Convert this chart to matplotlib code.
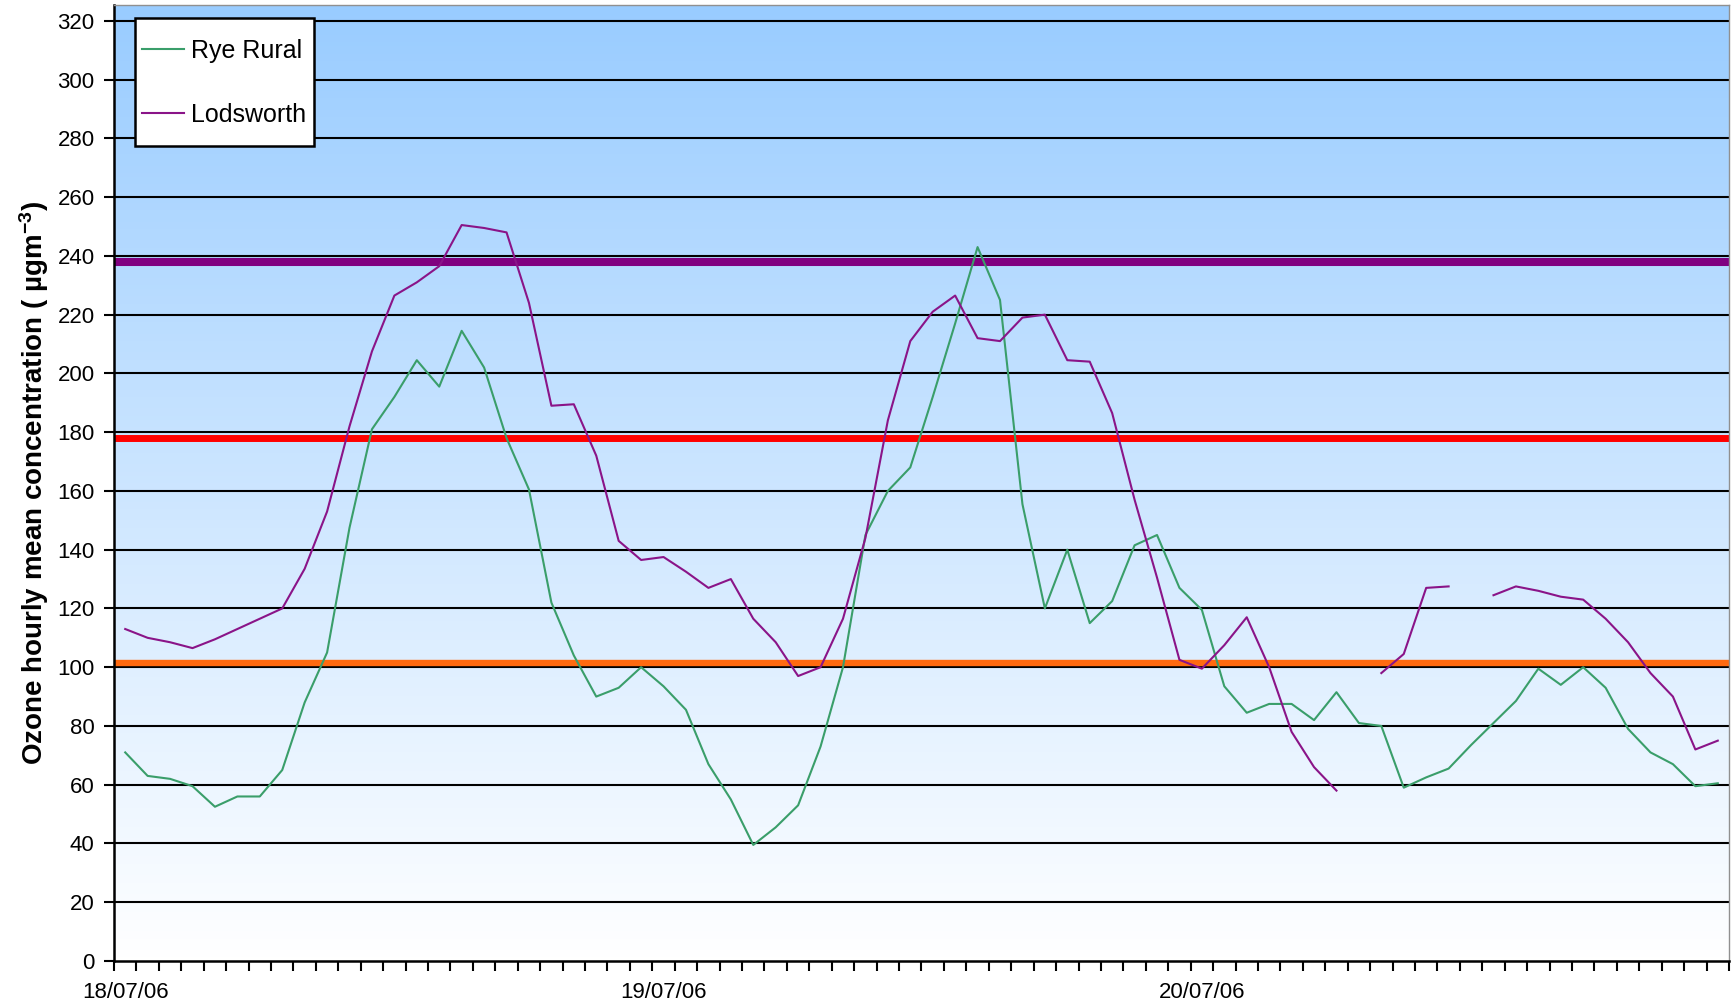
import numpy as np
import matplotlib
matplotlib.use("Agg")
import matplotlib.pyplot as plt
from matplotlib.legend_handler import HandlerLine2D

plt.rcParams['font.family'] = ['Liberation Sans', 'DejaVu Sans']
plt.rcParams['mathtext.default'] = 'regular'

nan = np.nan
# hourly values, 18/07/06 00:00 .. 20/07/06 23:00
rye_rural = [71, 63, 62, 59.5, 52.5, 56, 56, 65, 88, 105,
             147.5, 181, 192, 204.5, 195.5, 214.5, 202, 178, 160.5, 122,
             104, 90, 93, 100, 93.5, 85.5, 67, 55, 39.5, 45.5,
             53, 73, 100, 145, 160, 168, 192, 217, 243, 225,
             155.5, 120, 140, 115, 122.5, 141.5, 145, 127, 119.5, 93.5,
             84.5, 87.5, 87.5, 82, 91.5, 81, 80, 59, 62.5, 65.5,
             73.5, 81, 88.5, 99.5, 94, 100, 93, 79, 71, 67,
             59.5, 60.5]
lodsworth = [113, 110, 108.5, 106.5, 109.5, 113, 116.5, 120, 133.5, 153,
             182, 207.5, 226.5, 231, 236.5, 250.5, 249.5, 248, 224, 189,
             189.5, 172, 143, 136.5, 137.5, 132.5, 127, 130, 116.5, 108.5,
             97, 100, 116.5, 144, 184, 211, 221, 226.5, 212, 211,
             219, 220, 204.5, 204, 186.5, 157, 130.5, 102.5, 99.5, 107.5,
             117, 100, 78, 66, 58, nan, 98, 104.5, 127, 127.5,
             nan, 124.5, 127.5, 126, 124, 123, 116.5, 108.5, 98, 90,
             72, 75]
day_labels = ['18/07/06', '19/07/06', '20/07/06']
day_start_hours = [0, 24, 48]
thresholds = [238, 178, 101.5]
threshold_colors = ['#800080', '#FF0000', '#FF6A10']
threshold_widths = [5.8, 5.0, 4.6]
y_ticks = list(range(0, 321, 20))

n = len(rye_rural)
x = np.arange(n) + 0.5
ymax = 325.4


class CenteredLineHandler(HandlerLine2D):
    """Legend line drawn at the vertical centre of the label text."""
    def create_artists(self, legend, orig_handle, xdescent, ydescent,
                       width, height, fontsize, trans):
        artists = super().create_artists(legend, orig_handle, xdescent, ydescent,
                                         width, height, fontsize, trans)
        for a in artists:
            yd = np.asarray(a.get_ydata())
            a.set_ydata(np.full_like(yd, 0.36 * fontsize, dtype=float))
        return artists


fig = plt.figure(figsize=(17.34, 10.06), dpi=100)
ax = fig.add_axes([114/1734, 45/1006, 1615/1734, 956/1006])

# gradient background (light blue at top to white at bottom)
top = np.array([153, 204, 255]) / 255.0
bot = np.array([255, 255, 255]) / 255.0
t = np.linspace(0, 1, 256)[:, None]
grad = (top[None, :] * (1 - t) + bot[None, :] * t)[:, None, :]
ax.imshow(grad, extent=(0, n, 0, ymax), aspect='auto', origin='upper', zorder=0)

for yv in y_ticks[1:]:
    ax.axhline(yv, color='black', lw=1.5, zorder=1)

for yv, c, w in zip(thresholds, threshold_colors, threshold_widths):
    ax.axhline(yv, color=c, lw=w, zorder=2, solid_capstyle='butt')

l1, = ax.plot(x, rye_rural, color='#3A9E6A', lw=1.5, label='Rye Rural', zorder=3)
l2, = ax.plot(x, lodsworth, color='#8A1488', lw=1.5, label='Lodsworth', zorder=3)

ax.set_xlim(0, n)
ax.set_ylim(0, ymax)
ax.set_yticks(y_ticks)
ax.set_yticklabels([str(v) for v in y_ticks])
ax.tick_params(axis='y', direction='out', length=7, width=1.5, pad=7, labelsize=16)

ax.set_xticks(np.arange(0, n + 1))
ax.set_xticklabels([])
ax.tick_params(axis='x', which='major', direction='out', length=7, width=1.5)
ax.set_xticks([h + 0.5 for h in day_start_hours], minor=True)
ax.set_xticklabels(day_labels, minor=True)
ax.tick_params(axis='x', which='minor', length=0, pad=15, labelsize=16)

for s in ['left', 'bottom']:
    ax.spines[s].set_color('black')
    ax.spines[s].set_linewidth(1.8)
for s in ['top', 'right']:
    ax.spines[s].set_color('#909090')
    ax.spines[s].set_linewidth(1.0)

ax.set_ylabel('Ozone hourly mean concentration ( µgm$^{-3}$)', fontsize=20,
              fontweight='bold')
ax.yaxis.set_label_coords(-0.039, 0.5)

handler = CenteredLineHandler()
leg = ax.legend(handles=[l1, l2], loc='upper left', bbox_to_anchor=(0.013, 0.986),
                fontsize=18, frameon=True, fancybox=False, framealpha=1,
                edgecolor='black', borderaxespad=0, handlelength=1.65,
                handletextpad=0.3, handleheight=2.6, borderpad=0.3,
                labelspacing=0.63, handler_map={l1: handler, l2: handler})
leg.get_frame().set_linewidth(1.8)
leg.set_zorder(5)

fig.savefig('out.png', dpi=100)
